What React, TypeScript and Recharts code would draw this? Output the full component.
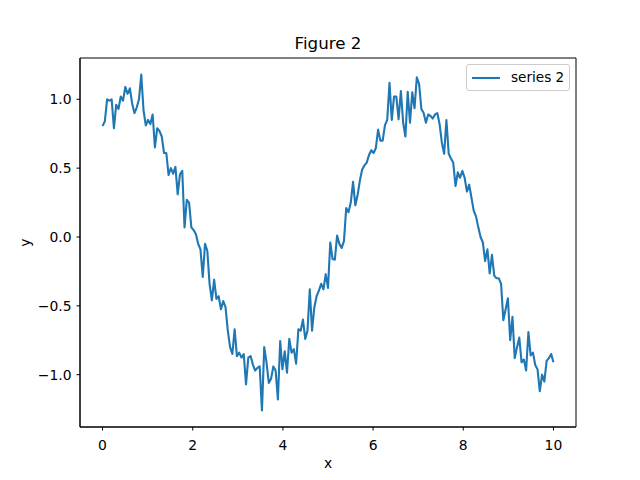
import React from "react";
import { LineChart, Line, XAxis, YAxis, ReferenceArea, Legend, Label } from "recharts";

const series2: number[] = [
  0.806, 0.84, 1.0, 0.99, 1.0, 0.79, 0.96, 0.93, 1.02, 0.99,
  1.09, 1.04, 1.08, 0.97, 0.9, 0.94, 1.0, 1.18, 0.92, 0.81,
  0.85, 0.82, 0.89, 0.65, 0.79, 0.77, 0.73, 0.61, 0.61, 0.45,
  0.5, 0.46, 0.51, 0.31, 0.455, 0.48, 0.07, 0.27, 0.25, 0.07,
  0.05, 0.02, -0.05, -0.09, -0.29, -0.05, -0.1, -0.34, -0.46, -0.31,
  -0.45, -0.43, -0.525, -0.465, -0.51, -0.68, -0.8, -0.85, -0.67, -0.865,
  -0.84, -0.876, -0.85, -1.07, -0.876, -0.865, -0.925, -0.97, -0.95, -0.94,
  -1.26, -0.8, -0.91, -1.06, -1.03, -0.94, -0.97, -1.18, -0.755, -0.96,
  -0.83, -0.985, -0.74, -0.84, -0.815, -0.92, -0.67, -0.68, -0.6, -0.74,
  -0.68, -0.38, -0.68, -0.51, -0.43, -0.39, -0.34, -0.38, -0.27, -0.37,
  -0.04, -0.16, -0.165, 0.01, -0.05, -0.08, -0.03, 0.21, 0.18, 0.25,
  0.4, 0.23, 0.305, 0.41, 0.49, 0.52, 0.54, 0.595, 0.63, 0.61,
  0.645, 0.78, 0.7, 0.7, 0.81, 0.85, 1.12, 0.85, 1.02, 1.02,
  0.855, 1.06, 0.83, 0.73, 1.055, 0.83, 1.05, 0.935, 1.16, 1.11,
  0.93, 0.9, 0.83, 0.89, 0.88, 0.86, 0.89, 0.9, 0.82, 0.685,
  0.605, 0.85, 0.605, 0.57, 0.54, 0.37, 0.47, 0.43, 0.48, 0.43,
  0.33, 0.38, 0.285, 0.19, 0.15, 0.07, 0.0, -0.04, -0.175, -0.09,
  -0.265, -0.13, -0.28, -0.3, -0.3, -0.34, -0.605, -0.525, -0.445, -0.75,
  -0.58, -0.88, -0.8, -0.73, -0.91, -0.89, -0.97, -0.69, -0.86, -0.84,
  -0.93, -0.96, -1.12, -1.0, -1.05, -0.9, -0.88, -0.85, -0.91,
];

const xStart = 0;
const xEnd = 10;
const xTicks = [0, 2, 4, 6, 8, 10];
const yTicks = [-1.0, -0.5, 0.0, 0.5, 1.0];
const xDomain: [number, number] = [-0.5, 10.5];
const yDomain: [number, number] = [-1.38, 1.3];
const seriesName = "series 2";
const titleText = "Figure 2";

const data = series2.map((y, i) => ({
  x: xStart + ((xEnd - xStart) * i) / (series2.length - 1),
  y,
}));

const FONT = "'DejaVu Sans', sans-serif";
const BLUE = "#1f77b4";

const fmt = (v: number) => v.toFixed(1).replace("-", "\u2212");

const YLabel = (props: any) => {
  const vb = props.viewBox || {};
  const cx = (vb.x ?? 0) + 25;
  const cy = (vb.y ?? 0) + (vb.height ?? 0) / 2;
  return (
    <text
      x={cx}
      y={cy}
      transform={`rotate(-90, ${cx}, ${cy})`}
      textAnchor="middle"
      dominantBaseline="central"
      fontFamily={FONT}
      fontSize={13.9}
      fill="#000"
    >
      y
    </text>
  );
};

const LegendBox = () => (
  <div
    style={{
      boxSizing: "border-box",
      width: 104,
      height: 27,
      border: "1px solid #cccccc",
      borderRadius: 3,
      background: "rgba(255,255,255,0.8)",
      display: "flex",
      alignItems: "center",
      fontFamily: FONT,
      fontSize: 13.6,
      color: "#000",
    }}
  >
    <svg width={28} height={4} style={{ marginLeft: 5, flex: "none" }}>
      <line x1={0} y1={2} x2={28} y2={2} stroke={BLUE} strokeWidth={2.1} />
    </svg>
    <span style={{ marginLeft: 11, whiteSpace: "nowrap", lineHeight: 1 }}>{seriesName}</span>
  </div>
);

export default function App() {
  return (
    <div style={{ position: "absolute", left: 0, top: 0, width: 640, height: 480, background: "#fff" }}>
      <div
        style={{
          position: "absolute",
          left: 80,
          width: 496,
          top: 35,
          textAlign: "center",
          fontFamily: FONT,
          fontSize: 16.7,
          lineHeight: 1,
          color: "#000",
        }}
      >
        {titleText}
      </div>
      <LineChart
        width={640}
        height={480}
        data={data}
        margin={{ top: 58, right: 64, bottom: 0, left: 0 }}
      >
        <XAxis
          dataKey="x"
          type="number"
          domain={xDomain}
          allowDataOverflow
          ticks={xTicks}
          interval={0}
          height={53}
          tickSize={3.5}
          tickMargin={10}
          axisLine={{ stroke: "#000" }}
          tickLine={{ stroke: "#000" }}
          tick={{ fill: "#000", fontSize: 13.9, fontFamily: FONT }}
        >
          <Label value="x" position="insideBottom" offset={12} fill="#000" fontSize={13.9} fontFamily={FONT} />
        </XAxis>
        <YAxis
          type="number"
          domain={yDomain}
          allowDataOverflow
          ticks={yTicks}
          interval={0}
          width={80}
          tickSize={3.5}
          tickMargin={5}
          tickFormatter={fmt}
          axisLine={{ stroke: "#000" }}
          tickLine={{ stroke: "#000" }}
          tick={{ fill: "#000", fontSize: 13.9, fontFamily: FONT }}
        >
          <Label content={YLabel} />
        </YAxis>
        <Line
          type="linear"
          dataKey="y"
          name={seriesName}
          stroke={BLUE}
          strokeWidth={2.1}
          dot={false}
          activeDot={false}
          isAnimationActive={false}
          strokeLinejoin="round"
        />
        <ReferenceArea
          x1={xDomain[0]}
          x2={xDomain[1]}
          y1={yDomain[0]}
          y2={yDomain[1]}
          fill="none"
          stroke="#000"
          strokeWidth={1}
          ifOverflow="visible"
        />
        <Legend
          layout="horizontal"
          verticalAlign="middle"
          align="center"
          content={LegendBox}
          wrapperStyle={{ position: "absolute", left: 466, top: 64, width: 104, height: 27 }}
        />
      </LineChart>
    </div>
  );
}
